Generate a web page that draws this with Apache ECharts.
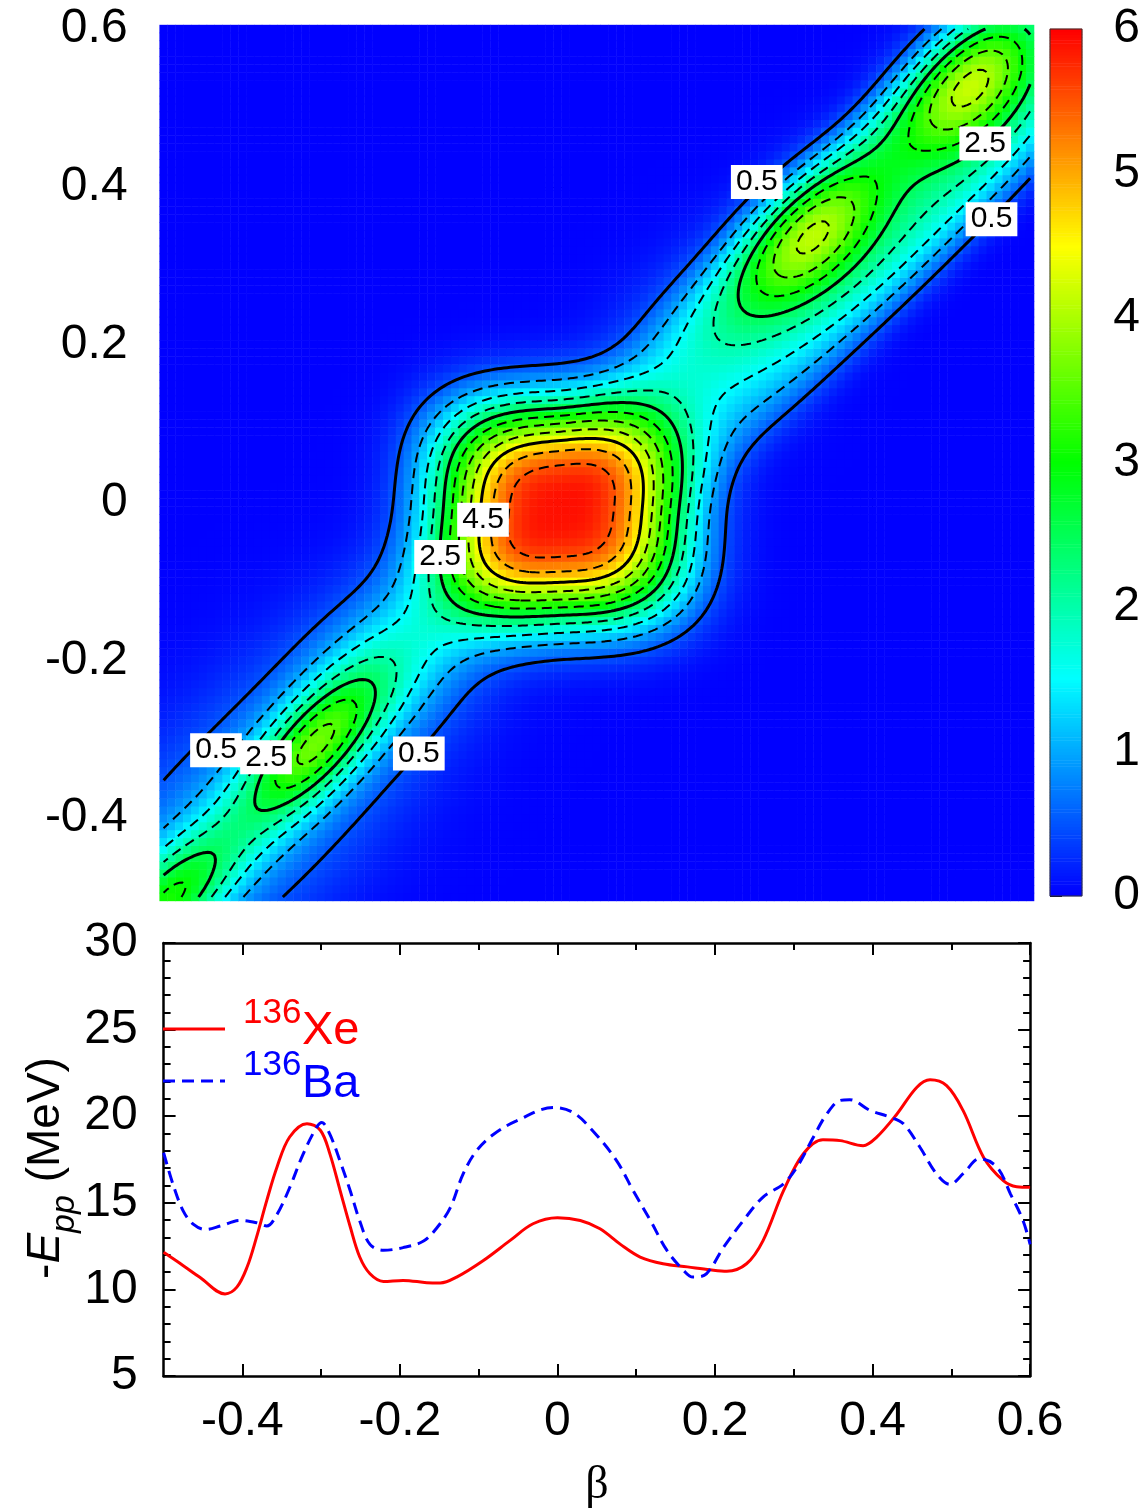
<!DOCTYPE html>
<html>
<head>
<meta charset="utf-8">
<title>Pairing overlap map and E_pp curves</title>
<script src="https://cdn.jsdelivr.net/npm/echarts@6/dist/echarts.min.js"></script>
<style>
  html, body { margin: 0; padding: 0; background: #fff; }
  #chart { width: 1143px; height: 1508px; }
</style>
</head>
<body>
<div id="chart"></div>
<script>
// ---------------- data ----------------
// beta axis ticks (shared by both panels)
const betaMajor = [-0.4, -0.2, 0, 0.2, 0.4, 0.6];
const betaMinor = [-0.3, -0.1, 0.1, 0.3, 0.5];

// -E_pp (MeV) versus beta, 136Xe
const betaXe = [-0.5,-0.475,-0.454,-0.422,-0.407,-0.394,-0.382,-0.369,-0.356,-0.34,-0.318,-0.301,-0.289,-0.276,-0.263,-0.251,-0.238,-0.221,-0.196,-0.166,-0.149,-0.128,-0.094,-0.06,-0.031,0,0.029,0.054,0.08,0.105,0.134,0.165,0.194,0.215,0.24,0.261,0.287,0.312,0.337,0.359,0.388,0.405,0.431,0.456,0.473,0.494,0.515,0.541,0.566,0.583,0.6];
const eppXe = [12.14,11.37,10.7,9.74,10.13,11.29,13.02,15.14,17.07,18.8,19.57,19.19,17.84,15.72,13.6,11.87,10.9,10.46,10.52,10.39,10.37,10.71,11.67,12.83,13.79,14.14,13.98,13.5,12.6,11.87,11.48,11.3,11.13,11.05,11.48,12.82,15.7,17.82,18.64,18.59,18.3,18.78,20.13,21.66,22.1,21.76,20.32,17.62,16.28,15.93,15.9];

// -E_pp (MeV) versus beta, 136Ba
const betaBa = [-0.5,-0.488,-0.475,-0.462,-0.447,-0.428,-0.403,-0.382,-0.369,-0.356,-0.34,-0.323,-0.306,-0.299,-0.289,-0.276,-0.263,-0.251,-0.238,-0.221,-0.196,-0.17,-0.153,-0.136,-0.12,-0.103,-0.081,-0.052,-0.005,0.02,0.045,0.075,0.096,0.118,0.139,0.16,0.172,0.189,0.211,0.236,0.261,0.287,0.304,0.325,0.342,0.359,0.371,0.397,0.422,0.439,0.46,0.481,0.498,0.515,0.536,0.558,0.575,0.591,0.6];
const eppBa = [17.89,16.06,14.52,13.75,13.46,13.66,13.98,13.85,13.66,14.33,15.87,17.8,19.34,19.63,18.96,17.41,15.68,13.95,12.6,12.26,12.41,12.79,13.56,14.72,16.64,17.99,18.96,19.73,20.5,20.21,19.15,17.44,15.71,13.98,12.25,11.1,10.71,10.9,12.44,13.98,15.33,16.1,17.06,18.8,20.14,20.91,20.95,20.33,19.95,19.57,18.22,16.68,16.06,16.68,17.55,17.06,15.52,13.98,12.6];

// overlap map over (beta_Xe, beta_Ba): lobes along the diagonal
//                   centre  midLL  midUR  ridgeLL ridgeUR ll1     ll2    ur1    ur2
const lobeX        = [0.004, -0.20,  0.19,  -0.40,  0.445, -0.31,  -0.50,  0.32,  0.53];
const lobeY        = [-0.012,-0.19,  0.19,  -0.40,  0.405, -0.31,  -0.51,  0.336, 0.533];
const lobeAmp      = [5.75,   1.0,   0.95,   1.0,   1.8,    2.55,   2.3,   2.46,  2.66];
const lobeAlong    = [0.155,  0.14,  0.14,   0.30,  0.35,   0.12,   0.12,  0.115, 0.115];
const lobeAcross   = [0.137,  0.085, 0.095,  0.125, 0.10,   0.05,   0.05,  0.065, 0.065];
const lobeAngle    = [0,      45,    45,     45,    45,     48,     45,    45,    45];
const lobePowAlong = [3,      2,     2,      2,     2,      2,      2,     2,     2];
const lobePowCross = [3,      2,     2,      2,     4,      2,      2,     2,     2];

// contour levels
const contourLevels = [0.5, 1, 1.5, 2, 2.5, 3, 3.5, 4, 4.5, 5, 5.5];
const solidLevels = [0.5, 2.5, 4.5];

// contour labels (level, position in beta coordinates)
const labelLevel = [0.5, 2.5, 0.5, 4.5, 2.5, 0.5, 2.5, 0.5];
const labelX = [0.253, 0.543, 0.551, -0.0945, -0.149, -0.4335, -0.370, -0.176];
const labelY = [0.406, 0.455, 0.359, -0.022, -0.069, -0.314, -0.323, -0.318];

// ---------------- field evaluation ----------------
function overlap(x, y) {
  let s = 0;
  for (let k = 0; k < lobeAmp.length; k++) {
    const dx = x - lobeX[k], dy = y - lobeY[k];
    const t = lobeAngle[k] * Math.PI / 180;
    const a = dx * Math.cos(t) + dy * Math.sin(t);
    const d = -dx * Math.sin(t) + dy * Math.cos(t);
    s += lobeAmp[k] * Math.exp(-Math.pow(Math.abs(a) / lobeAlong[k], lobePowAlong[k])
                               - Math.pow(Math.abs(d) / lobeAcross[k], lobePowCross[k]));
  }
  return s;
}

// heatmap cells
const HN = 111, hStep = 0.01;
const heatCats = [];
for (let i = 0; i < HN; i++) heatCats.push(String(i));
const heatData = [];
for (let j = 0; j < HN; j++) {
  for (let i = 0; i < HN; i++) {
    heatData.push([i, j, +overlap(-0.5 + i * hStep, -0.5 + j * hStep).toFixed(4)]);
  }
}

// colour bar cells
const CBN = 301;
const cbCats = [], cbData = [];
for (let k = 0; k < CBN; k++) { cbCats.push(String(k)); cbData.push([0, k, 6 * k / (CBN - 1)]); }

// ---------------- contour tracing (marching squares) ----------------
const CN = 275, cStep = 1.1 / CN, W = CN + 1;
const gv = new Float64Array(W * W);
for (let j = 0; j < W; j++) for (let i = 0; i < W; i++) gv[j * W + i] = overlap(-0.5 + i * cStep, -0.5 + j * cStep);

function traceLevel(L) {
  const pts = new Map(), segs = [], adj = new Map();
  const ep = (key, i0, j0, i1, j1) => {
    if (!pts.has(key)) {
      const a = gv[j0 * W + i0], b = gv[j1 * W + i1];
      const t = (L - a) / (b - a);
      pts.set(key, [-0.5 + (i0 + (i1 - i0) * t) * cStep, -0.5 + (j0 + (j1 - j0) * t) * cStep]);
    }
    return key;
  };
  const addSeg = (k1, k2) => {
    const s = segs.length; segs.push([k1, k2]);
    if (!adj.has(k1)) adj.set(k1, []); adj.get(k1).push(s);
    if (!adj.has(k2)) adj.set(k2, []); adj.get(k2).push(s);
  };
  for (let j = 0; j < CN; j++) {
    for (let i = 0; i < CN; i++) {
      const a = gv[j * W + i], b = gv[j * W + i + 1], c = gv[(j + 1) * W + i + 1], d = gv[(j + 1) * W + i];
      const ua = a >= L, ub = b >= L, uc = c >= L, ud = d >= L;
      if (ua === ub && ub === uc && uc === ud) continue;
      const kB = (j * W + i) * 2, kT = ((j + 1) * W + i) * 2, kL = (j * W + i) * 2 + 1, kR = (j * W + i + 1) * 2 + 1;
      const e = [];
      if (ua !== ub) e.push(ep(kB, i, j, i + 1, j));
      if (ub !== uc) e.push(ep(kR, i + 1, j, i + 1, j + 1));
      if (ud !== uc) e.push(ep(kT, i, j + 1, i + 1, j + 1));
      if (ua !== ud) e.push(ep(kL, i, j, i, j + 1));
      if (e.length === 2) addSeg(e[0], e[1]);
      else if (e.length === 4) {
        const um = (a + b + c + d) / 4 >= L;
        if (ua !== um) addSeg(kB, kL);
        if (ub !== um) addSeg(kB, kR);
        if (uc !== um) addSeg(kR, kT);
        if (ud !== um) addSeg(kT, kL);
      }
    }
  }
  const used = new Uint8Array(segs.length), out = [];
  const walk = (k) => {
    const chain = [];
    for (;;) {
      const list = adj.get(k); let nx = -1;
      for (const t of list) if (!used[t]) { nx = t; break; }
      if (nx < 0) break;
      used[nx] = 1;
      k = segs[nx][0] === k ? segs[nx][1] : segs[nx][0];
      chain.push(k);
    }
    return chain;
  };
  for (let s = 0; s < segs.length; s++) {
    if (used[s]) continue;
    used[s] = 1;
    const fwd = walk(segs[s][1]);
    const back = walk(segs[s][0]);
    const keys = back.reverse().concat([segs[s][0], segs[s][1]], fwd);
    out.push(keys.map(k => pts.get(k)));
  }
  return out;
}

const solidContours = [], dashedContours = [];
contourLevels.forEach(L => {
  const target = solidLevels.indexOf(L) >= 0 ? solidContours : dashedContours;
  traceLevel(L).forEach(c => target.push({ coords: c }));
});

// ---------------- chart ----------------
const FONT = "'Liberation Sans', Arial, Helvetica, sans-serif";
const fmtBeta = v => String(Math.round(v * 10) / 10);

// panel geometry
const mapLeft = 163.6, mapTop = 29, mapW = 866.5, mapH = 868;
const cellX = mapW / 1.1 * hStep, cellY = mapH / 1.1 * hStep;
const eLeft = 163.6, eTop = 943, eW = 866.5, eH = 433;
const cbLeft = 1050, cbTop = 29, cbW = 32, cbH = 867;

const chart = echarts.init(document.getElementById('chart'), null, { renderer: 'canvas' });

chart.setOption({
  animation: false,
  backgroundColor: '#fff',
  textStyle: { fontFamily: FONT },
  grid: [
    { left: mapLeft - cellX / 2, top: mapTop - cellY / 2, width: mapW + cellX, height: mapH + cellY },
    { left: mapLeft, top: mapTop, width: mapW, height: mapH },
    { left: cbLeft, top: cbTop, width: cbW, height: cbH },
    { left: cbLeft, top: cbTop, width: cbW, height: cbH },
    { left: eLeft, top: eTop, width: eW, height: eH },
    { left: eLeft, top: eTop, width: eW, height: eH }
  ],
  xAxis: [
    { gridIndex: 0, type: 'category', data: heatCats, show: false },
    { gridIndex: 1, type: 'value', min: -0.5, max: 0.6, position: 'bottom',
      axisLine: { show: false }, splitLine: { show: false }, axisLabel: { show: false },
      axisTick: { show: true, inside: false, length: 12, customValues: betaMajor, lineStyle: { color: '#000', width: 1 } } },
    { gridIndex: 1, type: 'value', min: -0.5, max: 0.6, position: 'top',
      axisLine: { show: false }, splitLine: { show: false }, axisLabel: { show: false },
      axisTick: { show: true, inside: false, length: 12, customValues: betaMajor, lineStyle: { color: '#000', width: 1 } } },
    { gridIndex: 2, type: 'category', data: ['c'], show: false },
    { gridIndex: 3, type: 'value', min: 0, max: 1, show: false },
    { gridIndex: 4, type: 'value', min: -0.5, max: 0.6, position: 'bottom',
      axisLine: { show: true, onZero: false, lineStyle: { color: '#000', width: 2.5 } }, splitLine: { show: false },
      axisTick: { show: true, inside: true, length: 12, customValues: betaMajor, lineStyle: { color: '#000', width: 2 } },
      axisLabel: { show: true, customValues: betaMajor, formatter: fmtBeta, fontSize: 48, color: '#000', margin: 22, fontFamily: FONT } },
    { gridIndex: 4, type: 'value', min: -0.5, max: 0.6, position: 'top',
      axisLine: { show: true, onZero: false, lineStyle: { color: '#000', width: 2.5 } }, splitLine: { show: false }, axisLabel: { show: false },
      axisTick: { show: true, inside: true, length: 12, customValues: betaMajor, lineStyle: { color: '#000', width: 2 } } },
    { gridIndex: 5, type: 'value', min: -0.5, max: 0.6, position: 'bottom',
      axisLine: { show: false }, splitLine: { show: false }, axisLabel: { show: false },
      axisTick: { show: true, inside: true, length: 7, customValues: betaMinor, lineStyle: { color: '#000', width: 2 } } },
    { gridIndex: 5, type: 'value', min: -0.5, max: 0.6, position: 'top',
      axisLine: { show: false }, splitLine: { show: false }, axisLabel: { show: false },
      axisTick: { show: true, inside: true, length: 7, customValues: betaMinor, lineStyle: { color: '#000', width: 2 } } }
  ],
  yAxis: [
    { gridIndex: 0, type: 'category', data: heatCats, show: false },
    { gridIndex: 1, type: 'value', min: -0.5, max: 0.6, position: 'left',
      axisLine: { show: false }, splitLine: { show: false },
      axisTick: { show: true, inside: false, length: 12, customValues: betaMajor, lineStyle: { color: '#000', width: 1 } },
      axisLabel: { show: true, customValues: betaMajor, formatter: fmtBeta, fontSize: 48, color: '#000', margin: 36, fontFamily: FONT } },
    { gridIndex: 1, type: 'value', min: -0.5, max: 0.6, position: 'right',
      axisLine: { show: false }, splitLine: { show: false }, axisLabel: { show: false },
      axisTick: { show: true, inside: false, length: 10, customValues: betaMajor, lineStyle: { color: '#000', width: 1 } } },
    { gridIndex: 2, type: 'category', data: cbCats, show: false },
    { gridIndex: 3, type: 'value', min: 0, max: 6, interval: 1, position: 'right',
      axisLine: { show: false }, splitLine: { show: false },
      axisTick: { show: true, inside: false, length: 12, lineStyle: { color: '#000', width: 1 } },
      axisLabel: { show: true, fontSize: 48, color: '#000', margin: 32, fontFamily: FONT } },
    { gridIndex: 4, type: 'value', min: 5, max: 30, interval: 5, position: 'left',
      axisLine: { show: true, onZero: false, lineStyle: { color: '#000', width: 2.5 } }, splitLine: { show: false },
      axisTick: { show: true, inside: true, length: 12, lineStyle: { color: '#000', width: 2 } },
      minorTick: { show: true, splitNumber: 5, length: 7, lineStyle: { color: '#000', width: 2 } },
      axisLabel: { show: true, fontSize: 48, color: '#000', margin: 26, fontFamily: FONT } },
    { gridIndex: 4, type: 'value', min: 5, max: 30, interval: 5, position: 'right',
      axisLine: { show: true, onZero: false, lineStyle: { color: '#000', width: 2.5 } }, splitLine: { show: false }, axisLabel: { show: false },
      axisTick: { show: true, inside: true, length: 12, lineStyle: { color: '#000', width: 2 } },
      minorTick: { show: true, splitNumber: 5, length: 7, lineStyle: { color: '#000', width: 2 } } },
    { gridIndex: 5, type: 'value', min: 5, max: 30, show: false }
  ],
  visualMap: {
    type: 'continuous', show: false, min: 0, max: 6, dimension: 2, seriesIndex: [0, 4],
    inRange: { color: ['#0000ff', '#00ffff', '#00ff00', '#ffff00', '#ff0000'] }
  },
  series: [
    { type: 'heatmap', xAxisIndex: 0, yAxisIndex: 0, data: heatData, progressive: 0, silent: true, z: 1,
      itemStyle: { borderWidth: 0 }, emphasis: { disabled: true } },
    { type: 'lines', coordinateSystem: 'cartesian2d', xAxisIndex: 1, yAxisIndex: 1, polyline: true, silent: true, z: 3,
      lineStyle: { color: '#000', width: 3, opacity: 1, type: 'solid' }, data: solidContours },
    { type: 'lines', coordinateSystem: 'cartesian2d', xAxisIndex: 1, yAxisIndex: 1, polyline: true, silent: true, z: 3,
      lineStyle: { color: '#000', width: 2, opacity: 1, type: [10, 6] }, data: dashedContours },
    { type: 'scatter', xAxisIndex: 1, yAxisIndex: 1, silent: true, z: 5, symbolSize: 0.1,
      itemStyle: { color: '#fff', opacity: 1 },
      label: { show: true, position: 'inside', formatter: p => p.value[2].toFixed(1), color: '#000', fontSize: 30, opacity: 1,
               fontFamily: FONT, backgroundColor: '#fff', padding: [3, 5, 1, 5], lineHeight: 30 },
      data: labelX.map((x, i) => [x, labelY[i], labelLevel[i]]) },
    { type: 'heatmap', xAxisIndex: 3, yAxisIndex: 3, data: cbData, progressive: 0, silent: true, z: 1,
      itemStyle: { borderWidth: 0 }, emphasis: { disabled: true } },
    { type: 'line', name: 'Xe', xAxisIndex: 5, yAxisIndex: 5, smooth: 0.35, symbol: 'none', silent: true, z: 4,
      lineStyle: { color: '#ff0000', width: 3 }, data: betaXe.map((b, i) => [b, eppXe[i]]) },
    { type: 'line', name: 'Ba', xAxisIndex: 5, yAxisIndex: 5, smooth: 0.35, symbol: 'none', silent: true, z: 4,
      lineStyle: { color: '#0000ff', width: 3, type: [12, 7] }, data: betaBa.map((b, i) => [b, eppBa[i]]) }
  ],
  graphic: [
    { type: 'rect', z: 100, silent: true, shape: { x: cbLeft, y: cbTop, width: cbW, height: cbH },
      style: { fill: 'none', stroke: '#333', lineWidth: 1 } },
    // legend
    { type: 'line', z: 100, silent: true, shape: { x1: 163, y1: 1029, x2: 225, y2: 1029 }, style: { stroke: '#ff0000', lineWidth: 3 } },
    { type: 'text', z: 100, silent: true, x: 243, y: 1013, style: { text: '136', font: '35px ' + FONT, fill: '#ff0000', align: 'left', verticalAlign: 'middle' } },
    { type: 'text', z: 100, silent: true, x: 302, y: 1031, style: { text: 'Xe', font: '47px ' + FONT, fill: '#ff0000', align: 'left', verticalAlign: 'middle' } },
    { type: 'line', z: 100, silent: true, shape: { x1: 163, y1: 1081, x2: 225, y2: 1081 }, style: { stroke: '#0000ff', lineWidth: 3, lineDash: [12, 7] } },
    { type: 'text', z: 100, silent: true, x: 243, y: 1065, style: { text: '136', font: '35px ' + FONT, fill: '#0000ff', align: 'left', verticalAlign: 'middle' } },
    { type: 'text', z: 100, silent: true, x: 302, y: 1084, style: { text: 'Ba', font: '47px ' + FONT, fill: '#0000ff', align: 'left', verticalAlign: 'middle' } },
    // axis titles
    { type: 'text', z: 100, silent: true, x: 597, y: 1486,
      style: { text: 'β', font: "46px 'Liberation Serif', 'DejaVu Serif', serif", fill: '#000', align: 'center', verticalAlign: 'middle' } },
    { type: 'text', z: 100, silent: true, x: 46, y: 1168, rotation: Math.PI / 2,
      style: {
        text: '{n|-}{i|E}{s|pp}{n| (MeV)}', align: 'center', verticalAlign: 'middle', fill: '#000',
        rich: {
          n: { fontSize: 46, fontFamily: FONT, lineHeight: 72, fill: '#000' },
          i: { fontSize: 46, fontFamily: FONT, fontStyle: 'italic', lineHeight: 72, fill: '#000' },
          s: { fontSize: 34, fontFamily: FONT, fontStyle: 'italic', verticalAlign: 'bottom', fill: '#000' }
        }
      } }
  ]
});
</script>
</body>
</html>
